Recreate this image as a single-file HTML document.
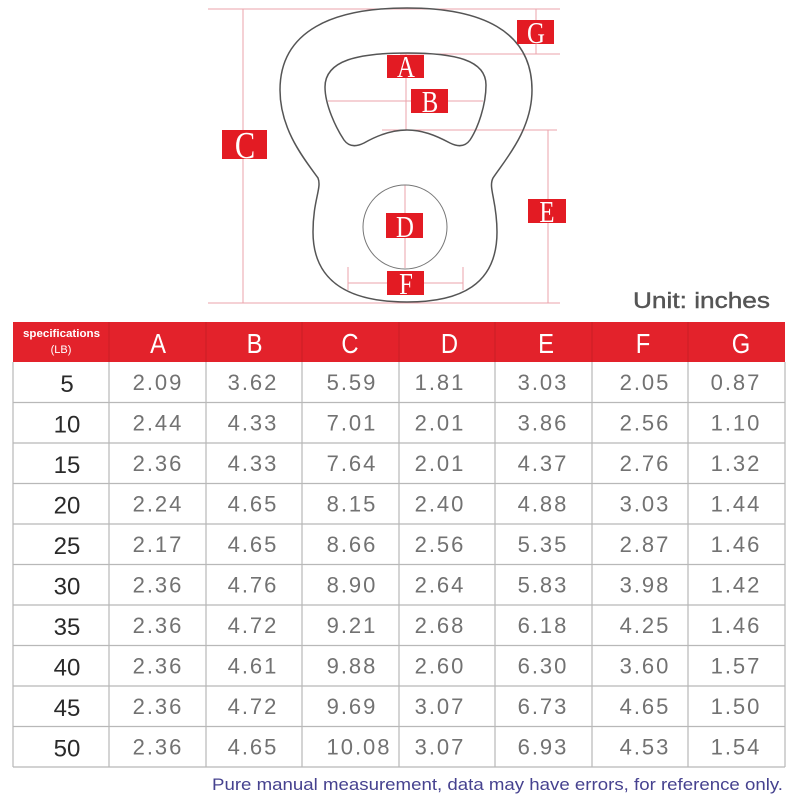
<!DOCTYPE html>
<html><head><meta charset="utf-8"><style>
html,body{margin:0;padding:0;background:#fff;}
svg{display:block;}
</style></head><body>
<svg width="800" height="800" viewBox="0 0 800 800" xmlns="http://www.w3.org/2000/svg">
<rect width="800" height="800" fill="#fff"/>
<!-- dimension lines -->
<g stroke="#eba3ab" stroke-width="1" fill="none">
<line x1="208" y1="9" x2="560" y2="9"/>
<line x1="208" y1="303" x2="560" y2="303"/>
<line x1="243" y1="9" x2="243" y2="303"/>
<line x1="536" y1="9" x2="536" y2="54"/>
<line x1="400" y1="54" x2="560" y2="54"/>
<line x1="406" y1="53" x2="406" y2="130"/>
<line x1="328" y1="101" x2="483" y2="101"/>
<line x1="382" y1="130" x2="557" y2="130"/>
<line x1="548" y1="130" x2="548" y2="303"/>
<line x1="405" y1="185" x2="405" y2="268"/>
<line x1="348" y1="283" x2="463" y2="283"/>
<line x1="348" y1="267" x2="348" y2="290"/>
<line x1="463" y1="267" x2="463" y2="290"/>
</g>
<!-- kettlebell -->
<g fill="none" stroke="#555" stroke-width="1.5">
<path d="M407 8 C480 8 532 30 532 90 C532 130 505 160 493 178 C488 188 497 200 497 232 C497 285 460 302 407 302 C354 302 313 285 313 232 C313 200 322 188 318 178 C305 160 280 130 280 90 C280 30 334 8 407 8 Z"/>
<path d="M407 53 C455 53 486 60 486 85 C486 105 478 128 470 140 C465 147 458 147 450 143 C435 135 422 130 407 130 C392 130 378 135 364 143 C356 147 349 147 344 140 C336 128 325 105 325 87 C325 60 359 53 407 53 Z"/>
</g>
<circle cx="405" cy="227" r="42" fill="none" stroke="#777" stroke-width="1"/>
<!-- labels -->
<g fill="#e31b23">
<rect x="517" y="20" width="37" height="24"/>
<rect x="387" y="55" width="37" height="23"/>
<rect x="411" y="89" width="37" height="24"/>
<rect x="222" y="130" width="45" height="29"/>
<rect x="528" y="199" width="38" height="24"/>
<rect x="386" y="213" width="37" height="25"/>
<rect x="387" y="271" width="37" height="24"/>
</g>
<g fill="#fff" font-family="Liberation Serif, serif" text-anchor="middle">
<text transform="translate(536,43) scale(0.8,1)" font-size="31">G</text>
<text transform="translate(406,77) scale(0.8,1)" font-size="31">A</text>
<text transform="translate(430,112) scale(0.8,1)" font-size="31">B</text>
<text transform="translate(245,158) scale(0.8,1)" font-size="38">C</text>
<text transform="translate(547,222) scale(0.8,1)" font-size="31">E</text>
<text transform="translate(405,237) scale(0.8,1)" font-size="31">D</text>
<text transform="translate(406,294) scale(0.8,1)" font-size="31">F</text>
</g>
<!-- unit -->
<text x="633" y="308" font-family="Liberation Sans, sans-serif" font-size="22" fill="#555" stroke="#555" stroke-width="0.4" textLength="137" lengthAdjust="spacingAndGlyphs">Unit: inches</text>
<!-- header -->
<rect x="13" y="322" width="772" height="40" fill="#e3222b"/>
<g stroke="#c91d26" stroke-width="1">
<line x1="109" y1="322" x2="109" y2="362"/>
<line x1="206" y1="322" x2="206" y2="362"/>
<line x1="302" y1="322" x2="302" y2="362"/>
<line x1="399" y1="322" x2="399" y2="362"/>
<line x1="495" y1="322" x2="495" y2="362"/>
<line x1="592" y1="322" x2="592" y2="362"/>
<line x1="688" y1="322" x2="688" y2="362"/>
</g>
<g fill="#fff" font-family="Liberation Sans, sans-serif">
<text x="23" y="337" font-size="11" font-weight="bold" textLength="77" lengthAdjust="spacingAndGlyphs">specifications</text>
<text x="61" y="353" font-size="11" text-anchor="middle">(LB)</text>
</g>
<g fill="#fff" font-family="Liberation Sans, sans-serif" font-size="28" text-anchor="middle">
<text transform="translate(158,353) scale(0.85,1)">A</text>
<text transform="translate(254.5,353) scale(0.85,1)">B</text>
<text transform="translate(350,353) scale(0.85,1)">C</text>
<text transform="translate(449.5,353) scale(0.85,1)">D</text>
<text transform="translate(546,353) scale(0.85,1)">E</text>
<text transform="translate(643,353) scale(0.85,1)">F</text>
<text transform="translate(741,353) scale(0.85,1)">G</text>
</g>
<!-- grid -->
<g stroke="#b8b8b8" stroke-width="1.2" fill="none">
<line x1="13" y1="362" x2="13" y2="767"/>
<line x1="109" y1="362" x2="109" y2="767"/>
<line x1="206" y1="362" x2="206" y2="767"/>
<line x1="302" y1="362" x2="302" y2="767"/>
<line x1="399" y1="362" x2="399" y2="767"/>
<line x1="495" y1="362" x2="495" y2="767"/>
<line x1="592" y1="362" x2="592" y2="767"/>
<line x1="688" y1="362" x2="688" y2="767"/>
<line x1="785" y1="362" x2="785" y2="767"/>
<line x1="13" y1="402.5" x2="785" y2="402.5"/>
<line x1="13" y1="443" x2="785" y2="443"/>
<line x1="13" y1="483.5" x2="785" y2="483.5"/>
<line x1="13" y1="524" x2="785" y2="524"/>
<line x1="13" y1="564.5" x2="785" y2="564.5"/>
<line x1="13" y1="605" x2="785" y2="605"/>
<line x1="13" y1="645.5" x2="785" y2="645.5"/>
<line x1="13" y1="686" x2="785" y2="686"/>
<line x1="13" y1="726.5" x2="785" y2="726.5"/>
<line x1="13" y1="767" x2="785" y2="767"/>
</g>
<!-- first column -->
<g fill="#2a2a2a" font-family="Liberation Sans, sans-serif" font-size="24" text-anchor="middle">
<text x="67" y="392">5</text>
<text x="67" y="432.5">10</text>
<text x="67" y="473">15</text>
<text x="67" y="513.5">20</text>
<text x="67" y="554">25</text>
<text x="67" y="594.5">30</text>
<text x="67" y="635">35</text>
<text x="67" y="675.5">40</text>
<text x="67" y="716">45</text>
<text x="67" y="756.5">50</text>
</g>
<!-- data -->
<g fill="#727272" font-family="Liberation Sans, sans-serif" font-size="22" text-anchor="middle" letter-spacing="2">
<g transform="translate(0,390)">
<text x="158" y="0">2.09</text><text x="253" y="0">3.62</text><text x="352" y="0">5.59</text><text x="440" y="0">1.81</text><text x="543" y="0">3.03</text><text x="645" y="0">2.05</text><text x="736" y="0">0.87</text>
</g>
<g transform="translate(0,430.5)">
<text x="158" y="0">2.44</text><text x="253" y="0">4.33</text><text x="352" y="0">7.01</text><text x="440" y="0">2.01</text><text x="543" y="0">3.86</text><text x="645" y="0">2.56</text><text x="736" y="0">1.10</text>
</g>
<g transform="translate(0,471)">
<text x="158" y="0">2.36</text><text x="253" y="0">4.33</text><text x="352" y="0">7.64</text><text x="440" y="0">2.01</text><text x="543" y="0">4.37</text><text x="645" y="0">2.76</text><text x="736" y="0">1.32</text>
</g>
<g transform="translate(0,511.5)">
<text x="158" y="0">2.24</text><text x="253" y="0">4.65</text><text x="352" y="0">8.15</text><text x="440" y="0">2.40</text><text x="543" y="0">4.88</text><text x="645" y="0">3.03</text><text x="736" y="0">1.44</text>
</g>
<g transform="translate(0,552)">
<text x="158" y="0">2.17</text><text x="253" y="0">4.65</text><text x="352" y="0">8.66</text><text x="440" y="0">2.56</text><text x="543" y="0">5.35</text><text x="645" y="0">2.87</text><text x="736" y="0">1.46</text>
</g>
<g transform="translate(0,592.5)">
<text x="158" y="0">2.36</text><text x="253" y="0">4.76</text><text x="352" y="0">8.90</text><text x="440" y="0">2.64</text><text x="543" y="0">5.83</text><text x="645" y="0">3.98</text><text x="736" y="0">1.42</text>
</g>
<g transform="translate(0,633)">
<text x="158" y="0">2.36</text><text x="253" y="0">4.72</text><text x="352" y="0">9.21</text><text x="440" y="0">2.68</text><text x="543" y="0">6.18</text><text x="645" y="0">4.25</text><text x="736" y="0">1.46</text>
</g>
<g transform="translate(0,673.5)">
<text x="158" y="0">2.36</text><text x="253" y="0">4.61</text><text x="352" y="0">9.88</text><text x="440" y="0">2.60</text><text x="543" y="0">6.30</text><text x="645" y="0">3.60</text><text x="736" y="0">1.57</text>
</g>
<g transform="translate(0,714)">
<text x="158" y="0">2.36</text><text x="253" y="0">4.72</text><text x="352" y="0">9.69</text><text x="440" y="0">3.07</text><text x="543" y="0">6.73</text><text x="645" y="0">4.65</text><text x="736" y="0">1.50</text>
</g>
<g transform="translate(0,754.5)">
<text x="158" y="0">2.36</text><text x="253" y="0">4.65</text><text x="359" y="0">10.08</text><text x="440" y="0">3.07</text><text x="543" y="0">6.93</text><text x="645" y="0">4.53</text><text x="736" y="0">1.54</text>
</g>
</g>
<!-- footer -->
<text x="212" y="790" font-family="Liberation Sans, sans-serif" font-size="17" fill="#46428f" textLength="571" lengthAdjust="spacingAndGlyphs">Pure manual measurement, data may have errors, for reference only.</text>
</svg>
</body></html>
